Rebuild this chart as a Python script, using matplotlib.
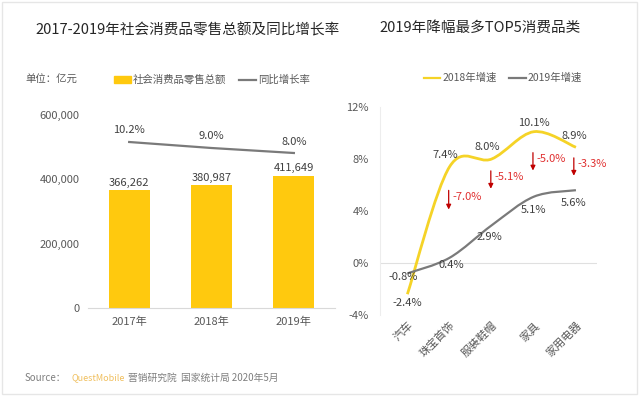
import matplotlib.pyplot as plt
import matplotlib.patches as mpatches
from matplotlib.lines import Line2D
from matplotlib.path import Path

plt.rcParams['font.family'] = ['Noto Sans CJK SC', 'DejaVu Sans']

# left chart data
years = ['2017年', '2018年', '2019年']
sales = [366262, 380987, 411649]
growth = [10.2, 9.0, 8.0]

# right chart data
cats = ['汽车', '珠宝首饰', '服装鞋帽', '家具', '家用电器']
g2018 = [-2.4, 7.4, 8.0, 10.1, 8.9]
g2019 = [-0.8, 0.4, 2.9, 5.1, 5.6]
drop = ['', '-7.0%', '-5.1%', '-5.0%', '-3.3%']

yellow = '#FFC90E'
line_yellow = '#F5D327'
gray = '#7A7A7A'
txt = '#404040'
tick_c = '#595959'


def smooth_path(xs, ys):
    # catmull-rom as cubic bezier segments
    pts = list(zip(xs, ys))
    verts = [pts[0]]
    codes = [Path.MOVETO]
    n = len(pts)
    for i in range(n - 1):
        p0 = pts[i - 1] if i > 0 else pts[i]
        p1 = pts[i]
        p2 = pts[i + 1]
        p3 = pts[i + 2] if i + 2 < n else pts[i + 1]
        c1 = (p1[0] + (p2[0] - p0[0]) / 6, p1[1] + (p2[1] - p0[1]) / 6)
        c2 = (p2[0] - (p3[0] - p1[0]) / 6, p2[1] - (p3[1] - p1[1]) / 6)
        verts += [c1, c2, p2]
        codes += [Path.CURVE4] * 3
    return Path(verts, codes)


fig = plt.figure(figsize=(6.4, 3.96), dpi=100)

# ---------- left chart ----------
ax1 = fig.add_axes([0.1375, 0.2222, 0.386, 0.4874])
x = range(len(years))
ax1.bar(x, sales, width=0.5, color=yellow, zorder=2)
ax1.set_xlim(-0.5, 2.5)
ax1.set_ylim(0, 600000)
ax1.set_yticks([0, 200000, 400000, 600000])
ax1.set_yticklabels(['{:,}'.format(v) for v in [0, 200000, 400000, 600000]])
ax1.set_xticks(list(x))
ax1.set_xticklabels(years)
for s in ['top', 'right', 'left']:
    ax1.spines[s].set_visible(False)
ax1.spines['bottom'].set_color('#D9D9D9')
ax1.tick_params(length=0, labelsize=8, colors=tick_c, pad=6)
for i, v in enumerate(sales):
    ax1.text(i, v + 8000, '{:,}'.format(v), ha='center', va='bottom',
             fontsize=8, color=txt)

ax1b = ax1.twinx()
ax1b.plot(list(x), growth, color=gray, lw=1.6)
ax1b.set_ylim(-23.0, 15.6)
ax1b.axis('off')
for i, v in enumerate(growth):
    ax1b.text(i, v + 1.3, '{:.1f}%'.format(v), ha='center', va='bottom',
              fontsize=8, color=txt)

fig.text(188 / 640, 1 - 30 / 396, '2017-2019年社会消费品零售总额及同比增长率',
         ha='center', va='center', fontsize=10.5, color='#262626')
fig.text(25 / 640, 1 - 80 / 396, '单位：亿元', ha='left', va='center',
         fontsize=7.5, color=tick_c)
h1 = [mpatches.Patch(color=yellow, label='社会消费品零售总额'),
      Line2D([], [], color=gray, lw=1.6, label='同比增长率')]
fig.legend(handles=h1, loc='center', bbox_to_anchor=(212 / 640, 1 - 80 / 396),
           ncol=2, frameon=False, fontsize=7.5, handlelength=1.6,
           handletextpad=0.2, columnspacing=1.2, labelcolor=tick_c)

# ---------- right chart ----------
ax2 = fig.add_axes([380 / 640, 0.2045, 217 / 640, 0.5253])
xs = list(range(len(cats)))
ax2.add_patch(mpatches.PathPatch(smooth_path(xs, g2018), fill=False,
                                 edgecolor=line_yellow, lw=2, zorder=3))
ax2.add_patch(mpatches.PathPatch(smooth_path(xs, g2019), fill=False,
                                 edgecolor=gray, lw=1.6, zorder=3))
ax2.set_xlim(-0.65, 4.5)
ax2.set_ylim(-4, 12)
ax2.set_yticks([-4, 0, 4, 8, 12])
ax2.set_yticklabels(['-4%', '0%', '4%', '8%', '12%'])
ax2.axhline(0, color='#E0E0E0', lw=0.8, zorder=1)
for s in ['top', 'right', 'bottom']:
    ax2.spines[s].set_visible(False)
ax2.spines['left'].set_color('#EDEDED')
ax2.set_xticks(xs)
ax2.set_xticklabels(cats, rotation=45, ha='right', rotation_mode='anchor')
ax2.tick_params(length=0, labelsize=8, colors=tick_c)
ax2.tick_params(axis='y', pad=8)

lab18 = [(0, -3.1), (0.9, 8.3), (1.9, 8.9), (3.0, 10.8), (3.95, 9.8)]
lab19 = [(-0.1, -1.1), (1.05, -0.15), (1.95, 2.0), (3.0, 4.1), (3.95, 4.6)]
for (px, py), v in zip(lab18, g2018):
    ax2.text(px, py, '{:.1f}%'.format(v), ha='center', va='center',
             fontsize=8, color=txt, zorder=4)
for (px, py), v in zip(lab19, g2019):
    ax2.text(px, py, '{:.1f}%'.format(v), ha='center', va='center',
             fontsize=8, color=txt, zorder=4)

arrows = [(0.98, 5.8, 3.9), (1.98, 7.3, 5.5), (2.98, 8.7, 6.9), (3.95, 8.3, 6.5)]
for (ax_x, y0, y1), lbl in zip(arrows, drop[1:]):
    ax2.annotate('', xy=(ax_x, y1), xytext=(ax_x, y0),
                 arrowprops=dict(arrowstyle='-|>', color='#C00000', lw=0.9,
                                 mutation_scale=7))
    ax2.text(ax_x + 0.08, (y0 + y1) / 2 + 0.2, lbl, ha='left', va='center',
             fontsize=8, color='#E03030')

fig.text(480 / 640, 1 - 28 / 396, '2019年降幅最多TOP5消费品类',
         ha='center', va='center', fontsize=10.5, color='#262626')
h2 = [Line2D([], [], color=line_yellow, lw=1.6, label='2018年增速'),
      Line2D([], [], color=gray, lw=1.6, label='2019年增速')]
fig.legend(handles=h2, loc='center', bbox_to_anchor=(503 / 640, 1 - 78 / 396),
           ncol=2, frameon=False, fontsize=7.5, handlelength=1.6,
           handletextpad=0.2, columnspacing=1.2, labelcolor=tick_c)

# source line
fig.text(25 / 640, 1 - 378 / 396, 'Source：', ha='left', va='center',
         fontsize=7, color='#7F7F7F')
fig.text(72 / 640, 1 - 378 / 396, 'QuestMobile', ha='left', va='center',
         fontsize=6.5, color='#F0C060')
fig.text(128 / 640, 1 - 378 / 396, '营销研究院  国家统计局 2020年5月', ha='left',
         va='center', fontsize=7, color='#7F7F7F')

fig.add_artist(mpatches.Rectangle((0.003, 0.005), 0.992, 0.99, fill=False,
                                  edgecolor='#E6E6E6', lw=1,
                                  transform=fig.transFigure))

fig.savefig('out.png', dpi=100)
